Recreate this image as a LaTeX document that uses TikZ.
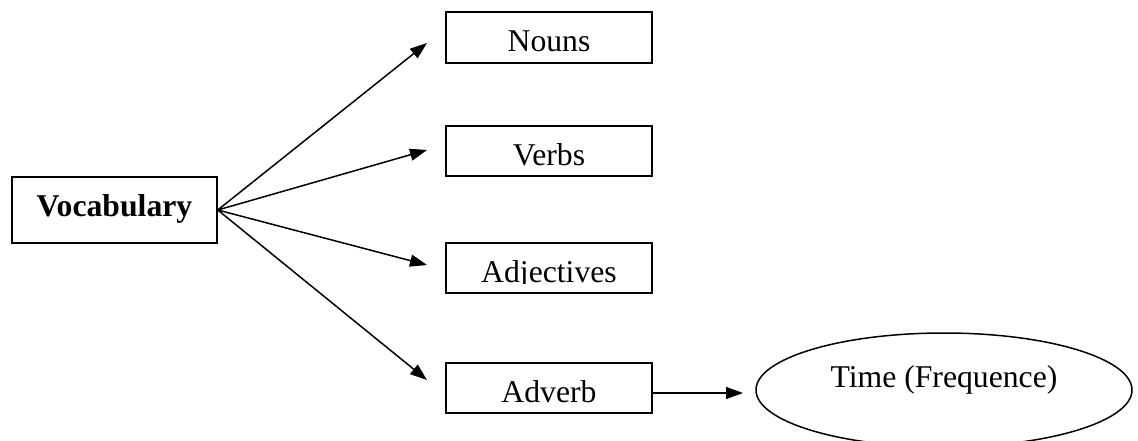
\documentclass[tikz,border=0pt]{standalone}
\usepackage{fontspec}
\setmainfont{Liberation Serif}
\usetikzlibrary{arrows.meta,shapes.geometric}
\begin{document}
\begin{tikzpicture}[x=1pt,y=-1pt,
  box/.style={draw, line width=1.5pt, minimum width=206pt, minimum height=50pt,
    inner sep=0pt, text height=29pt, text depth=0pt, font=\fontsize{31.7}{36}\selectfont},
  conn/.style={line width=1.5pt, -{Triangle[length=17pt,width=12pt]}}]
\useasboundingbox (0,0) rectangle (1138,441);
\clip (0,0) rectangle (1138,441);
\fill[white] (0,0) rectangle (1138,441);

\node[box, minimum width=205pt, minimum height=66pt, text height=12pt,
  font=\fontsize{31.7}{36}\selectfont\bfseries] (vocab) at (114.5,210) {Vocabulary};

\node[box, minimum height=51pt] (nouns) at (549,37.5) {Nouns};
\node[box] (verbs) at (549,151) {Verbs};
\begin{scope}
  \clip (440,240) rectangle (660,283.5);
  \node[box, draw=none, outer sep=0pt] (adj) at (549,268) {Adjectives};
\end{scope}
\draw[line width=1.5pt] (adj.north west) rectangle (adj.south east);
\node[box] (adverb) at (549,388) {Adverb};

\node[ellipse, draw, line width=1.5pt, minimum width=376pt, minimum height=114pt,
  inner sep=0pt, text height=0pt, text depth=6pt,
  font=\fontsize{31.7}{36}\selectfont] (time) at (944,390) {Time (Frequence)};

\coordinate (tn) at (427,43);
\coordinate (tv) at (427,150);
\coordinate (tj) at (427,265);
\coordinate (tr) at (427,380);
\coordinate (tt) at (743,393);

\draw[conn] (vocab.east) -- (tn);
\draw[conn] (vocab.east) -- (tv);
\draw[conn] (vocab.east) -- (tj);
\draw[conn] (vocab.east) -- (tr);
\draw[conn] ([yshift=-5pt]adverb.east) -- (tt);
\end{tikzpicture}
\end{document}
